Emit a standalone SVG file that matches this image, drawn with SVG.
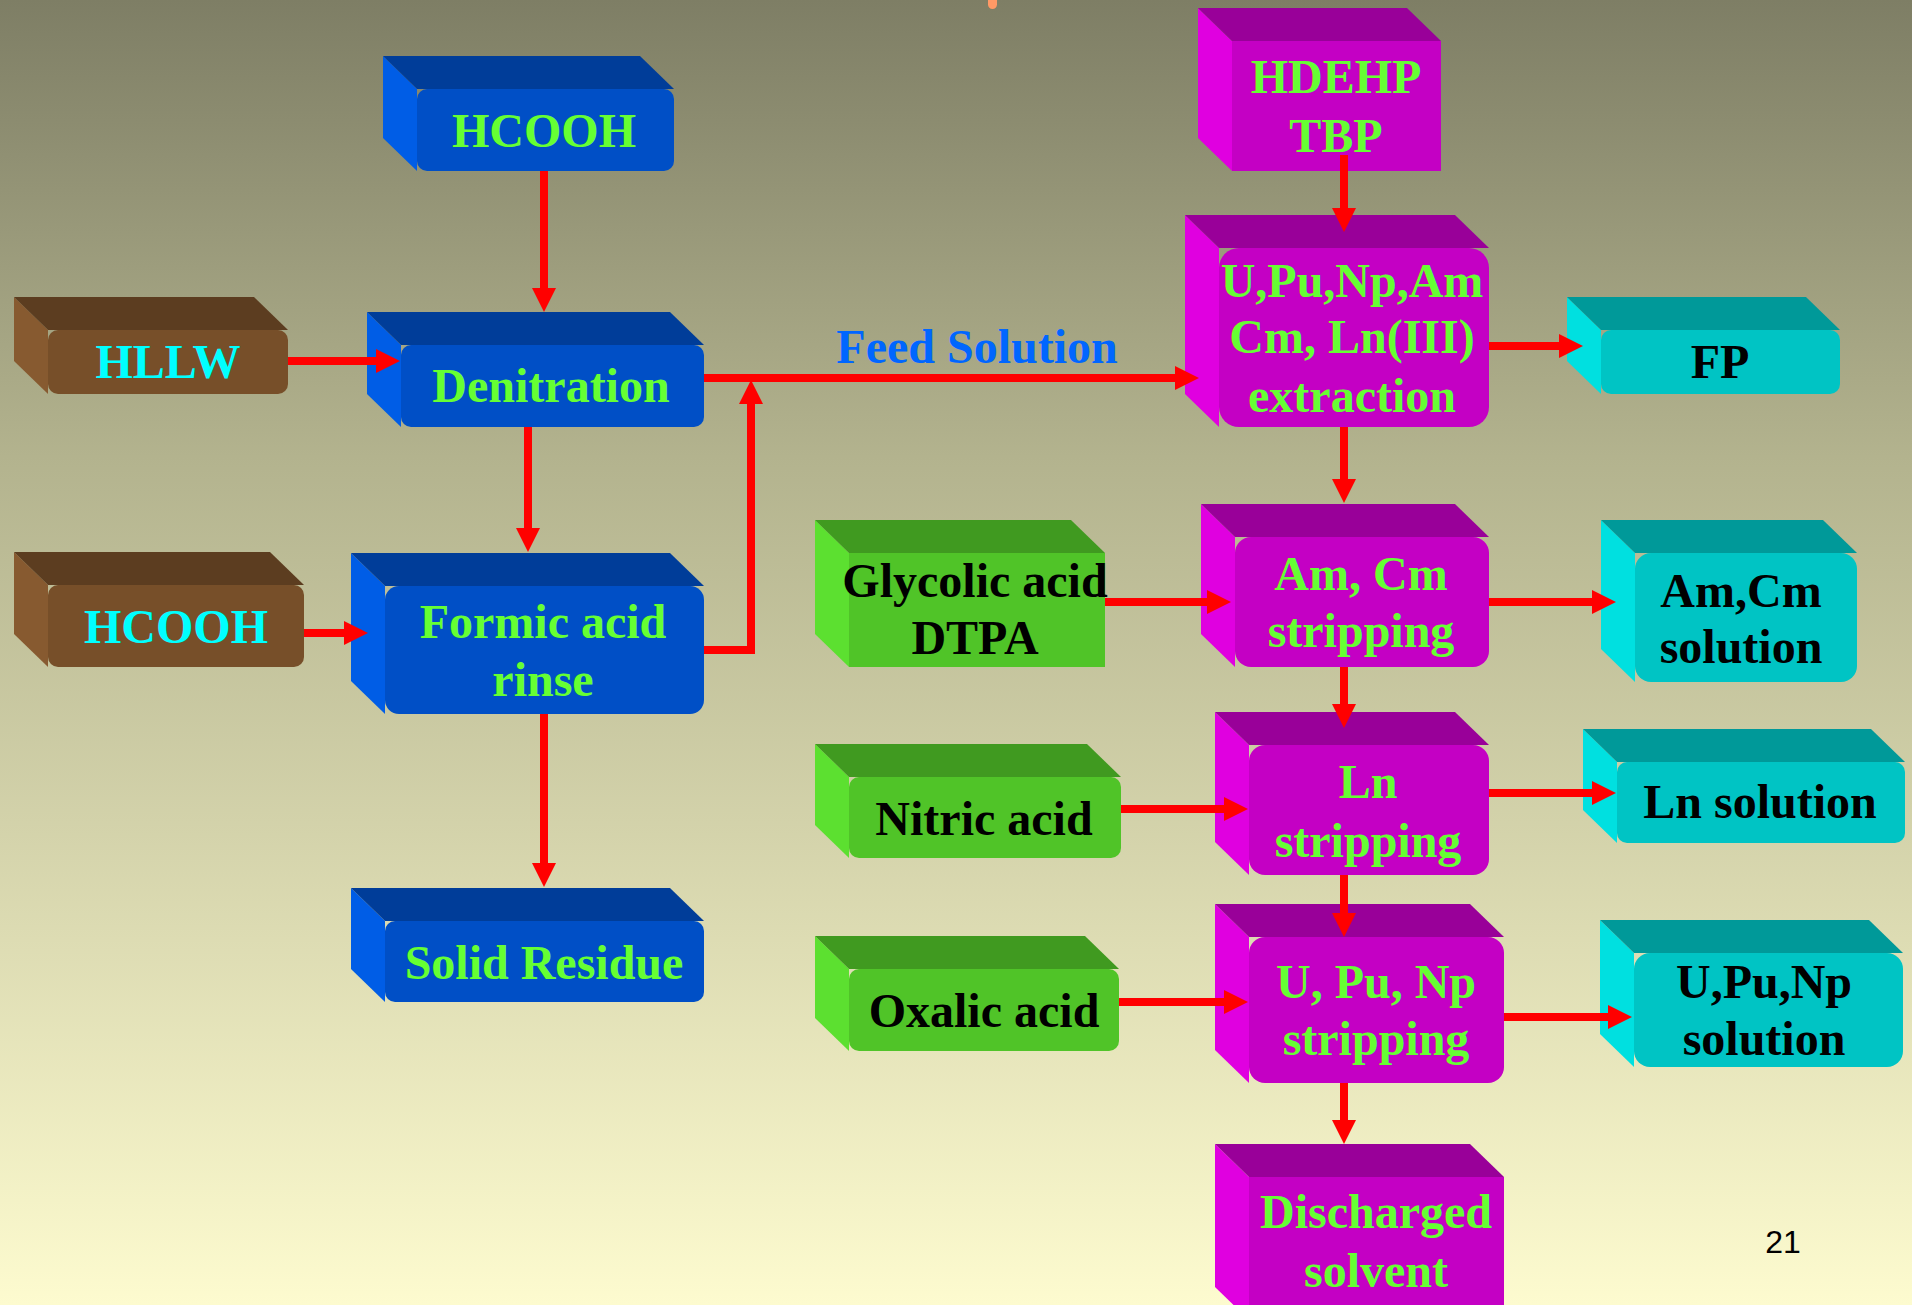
<svg xmlns="http://www.w3.org/2000/svg" width="1912" height="1305" viewBox="0 0 1912 1305">
<defs>
<linearGradient id="bg" x1="0" y1="0" x2="0" y2="1">
<stop offset="0" stop-color="#7e7e65"/>
<stop offset="0.35" stop-color="#b3b38e"/>
<stop offset="1" stop-color="#fdfbcf"/>
</linearGradient>
<marker id="ah" viewBox="0 0 24 24" markerWidth="24" markerHeight="24" markerUnits="userSpaceOnUse" refX="2" refY="12" orient="auto">
<path d="M0,0 L24,12 L0,24 z" fill="#ff0000"/>
</marker>
</defs>
<style>
text{font-family:"Liberation Serif","Times New Roman",serif;font-weight:bold;font-size:48px;text-anchor:middle}
.g{fill:#66ff33}.c{fill:#00ffff}.k{fill:#000000}
.blue .front{fill:#004fc6}.blue .top{fill:#003d99}.blue .left{fill:#005de6}
.brown .front{fill:#774f29}.brown .top{fill:#5c3d20}.brown .left{fill:#875a30}
.mag .front{fill:#c400c4}.mag .top{fill:#990099}.mag .left{fill:#e000e0}
.grn .front{fill:#50c428}.grn .top{fill:#409a20}.grn .left{fill:#5ce030}
.cyn .front{fill:#00c4c4}.cyn .top{fill:#009999}.cyn .left{fill:#00e0e0}
.conn path{fill:none;stroke:#ff0000;stroke-width:8;marker-end:url(#ah)}
</style>
<rect x="0" y="0" width="1912" height="1305" fill="url(#bg)"/>
<rect x="988" y="-6" width="9" height="15" rx="4.5" fill="#ff9966"/>

<g id="hcooh_top" class="blue">
<polygon class="left" points="383,56 417,89 417,171 383,138"/>
<polygon class="top" points="383,56 640,56 674,89 417,89"/>
<rect class="front" x="417" y="89" width="257" height="82" rx="10"/>
<text class="g" x="544" y="147">HCOOH</text>
</g>
<g id="hllw" class="brown">
<polygon class="left" points="14,297 48,330 48,394 14,361"/>
<polygon class="top" points="14,297 254,297 288,330 48,330"/>
<rect class="front" x="48" y="330" width="240" height="64" rx="10"/>
<text class="c" x="168" y="378">HLLW</text>
</g>
<g id="denitration" class="blue">
<polygon class="left" points="367,312 401,345 401,427 367,394"/>
<polygon class="top" points="367,312 670,312 704,345 401,345"/>
<rect class="front" x="401" y="345" width="303" height="82" rx="10"/>
<text class="g" x="551" y="402">Denitration</text>
</g>
<g id="hcooh_brown" class="brown">
<polygon class="left" points="14,552 48,585 48,667 14,634"/>
<polygon class="top" points="14,552 270,552 304,585 48,585"/>
<rect class="front" x="48" y="585" width="256" height="82" rx="10"/>
<text class="c" x="176" y="643">HCOOH</text>
</g>
<g id="formic_rinse" class="blue">
<polygon class="left" points="351,553 385,586 385,714 351,681"/>
<polygon class="top" points="351,553 670,553 704,586 385,586"/>
<rect class="front" x="385" y="586" width="319" height="128" rx="14"/>
<text class="g" x="543" y="638">Formic acid</text>
<text class="g" x="543" y="696">rinse</text>
</g>
<g id="solid_residue" class="blue">
<polygon class="left" points="351,888 385,921 385,1002 351,969"/>
<polygon class="top" points="351,888 670,888 704,921 385,921"/>
<rect class="front" x="385" y="921" width="319" height="81" rx="10"/>
<text class="g" x="544" y="979">Solid Residue</text>
</g>
<g id="hdehp_tbp" class="mag">
<polygon class="left" points="1198,8 1232,41 1232,171 1198,138"/>
<polygon class="top" points="1198,8 1407,8 1441,41 1232,41"/>
<rect class="front" x="1232" y="41" width="209" height="130"/>
<text class="g" x="1336" y="93">HDEHP</text>
<text class="g" x="1336" y="152">TBP</text>
</g>
<g id="extraction" class="mag">
<polygon class="left" points="1185,215 1219,248 1219,427 1185,394"/>
<polygon class="top" points="1185,215 1455,215 1489,248 1219,248"/>
<rect class="front" x="1219" y="248" width="270" height="179" rx="20"/>
<text class="g" x="1352" y="297">U,Pu,Np,Am</text>
<text class="g" x="1352" y="353">Cm, Ln(III)</text>
<text class="g" x="1352" y="412">extraction</text>
</g>
<g id="fp" class="cyn">
<polygon class="left" points="1567,297 1601,330 1601,394 1567,361"/>
<polygon class="top" points="1567,297 1806,297 1840,330 1601,330"/>
<rect class="front" x="1601" y="330" width="239" height="64" rx="10"/>
<text class="k" x="1720" y="378">FP</text>
</g>
<g id="glycolic_dtpa" class="grn">
<polygon class="left" points="815,520 849,553 849,667 815,634"/>
<polygon class="top" points="815,520 1071,520 1105,553 849,553"/>
<rect class="front" x="849" y="553" width="256" height="114"/>
<text class="k" x="975" y="597">Glycolic acid</text>
<text class="k" x="975" y="654">DTPA</text>
</g>
<g id="amcm_stripping" class="mag">
<polygon class="left" points="1201,504 1235,537 1235,667 1201,634"/>
<polygon class="top" points="1201,504 1455,504 1489,537 1235,537"/>
<rect class="front" x="1235" y="537" width="254" height="130" rx="16"/>
<text class="g" x="1361" y="590">Am, Cm</text>
<text class="g" x="1361" y="647">stripping</text>
</g>
<g id="amcm_solution" class="cyn">
<polygon class="left" points="1601,520 1635,553 1635,682 1601,649"/>
<polygon class="top" points="1601,520 1823,520 1857,553 1635,553"/>
<rect class="front" x="1635" y="553" width="222" height="129" rx="16"/>
<text class="k" x="1741" y="607">Am,Cm</text>
<text class="k" x="1741" y="663">solution</text>
</g>
<g id="nitric_acid" class="grn">
<polygon class="left" points="815,744 849,777 849,858 815,825"/>
<polygon class="top" points="815,744 1087,744 1121,777 849,777"/>
<rect class="front" x="849" y="777" width="272" height="81" rx="10"/>
<text class="k" x="984" y="835">Nitric acid</text>
</g>
<g id="ln_stripping" class="mag">
<polygon class="left" points="1215,712 1249,745 1249,875 1215,842"/>
<polygon class="top" points="1215,712 1455,712 1489,745 1249,745"/>
<rect class="front" x="1249" y="745" width="240" height="130" rx="16"/>
<text class="g" x="1368" y="798">Ln</text>
<text class="g" x="1368" y="857">stripping</text>
</g>
<g id="ln_solution" class="cyn">
<polygon class="left" points="1583,729 1617,762 1617,843 1583,810"/>
<polygon class="top" points="1583,729 1871,729 1905,762 1617,762"/>
<rect class="front" x="1617" y="762" width="288" height="81" rx="10"/>
<text class="k" x="1760" y="818">Ln solution</text>
</g>
<g id="oxalic_acid" class="grn">
<polygon class="left" points="815,936 849,969 849,1051 815,1018"/>
<polygon class="top" points="815,936 1085,936 1119,969 849,969"/>
<rect class="front" x="849" y="969" width="270" height="82" rx="10"/>
<text class="k" x="984" y="1027">Oxalic acid</text>
</g>
<g id="upunp_stripping" class="mag">
<polygon class="left" points="1215,904 1249,937 1249,1083 1215,1050"/>
<polygon class="top" points="1215,904 1470,904 1504,937 1249,937"/>
<rect class="front" x="1249" y="937" width="255" height="146" rx="16"/>
<text class="g" x="1376" y="998">U, Pu, Np</text>
<text class="g" x="1376" y="1055">stripping</text>
</g>
<g id="upunp_solution" class="cyn">
<polygon class="left" points="1600,920 1634,953 1634,1067 1600,1034"/>
<polygon class="top" points="1600,920 1869,920 1903,953 1634,953"/>
<rect class="front" x="1634" y="953" width="269" height="114" rx="16"/>
<text class="k" x="1764" y="998">U,Pu,Np</text>
<text class="k" x="1764" y="1055">solution</text>
</g>
<g id="discharged_solvent" class="mag">
<polygon class="left" points="1215,1144 1249,1177 1249,1320 1215,1287"/>
<polygon class="top" points="1215,1144 1470,1144 1504,1177 1249,1177"/>
<rect class="front" x="1249" y="1177" width="255" height="143"/>
<text class="g" x="1376" y="1228">Discharged</text>
<text class="g" x="1376" y="1287">solvent</text>
</g>

<g class="conn" id="connectors">
<path d="M544,171 V290"/>
<path d="M288,361 H378"/>
<path d="M528,427 V530"/>
<path d="M304,633 H346"/>
<path d="M544,714 V865"/>
<path d="M704,650 H751 V402"/>
<path d="M704,378 H1177"/>
<path d="M1344,155 V210"/>
<path d="M1489,346 H1561"/>
<path d="M1344,427 V481"/>
<path d="M1105,602 H1209"/>
<path d="M1489,602 H1594"/>
<path d="M1344,667 V706"/>
<path d="M1121,809 H1226"/>
<path d="M1489,793 H1594"/>
<path d="M1344,875 V915"/>
<path d="M1119,1002 H1226"/>
<path d="M1504,1017 H1610"/>
<path d="M1344,1083 V1122"/>
</g>

<text x="977" y="363" fill="#0066ff">Feed Solution</text>
<text x="1783" y="1253" style="font-family:'Liberation Sans',Arial,sans-serif;font-weight:normal;font-size:32px" fill="#000000">21</text>
</svg>
